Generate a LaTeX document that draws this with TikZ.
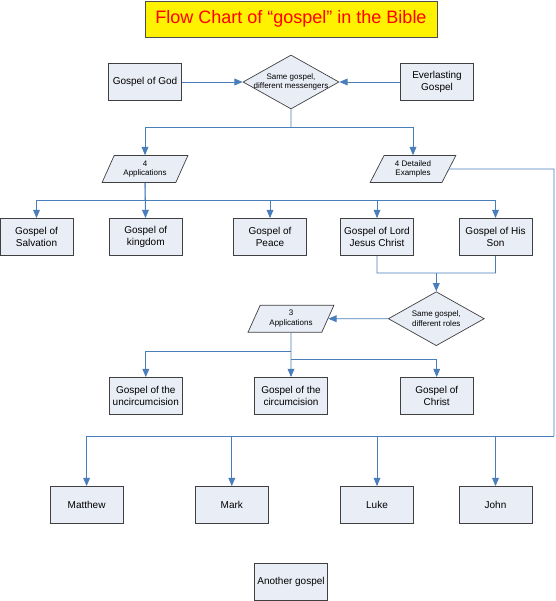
\documentclass[tikz,border=0pt]{standalone}
\usepackage{fontspec}
\setmainfont{Liberation Sans}
\usepackage{tikz}
\usetikzlibrary{arrows,shapes.geometric}
\definecolor{boxfill}{RGB}{233,237,246}
\definecolor{linkblue}{RGB}{74,126,187}

\begin{document}
\begin{tikzpicture}[x=1pt, y=-1pt, >=triangle 45,
  box/.style={draw=black!75, line width=0.9pt, fill=boxfill, minimum width=73pt, minimum height=37pt, inner sep=1pt, align=center, font=\fontsize{10}{12}\selectfont},
  choice/.style={diamond, shape aspect=1.78, draw=black!75, line width=0.7pt, fill=boxfill, minimum width=96pt, minimum height=54pt, inner sep=-6pt, align=center, font=\fontsize{8}{9.5}\selectfont},
  io/.style={trapezium, trapezium left angle=63, trapezium right angle=117, trapezium stretches=true, draw=black!75, line width=0.7pt, fill=boxfill, minimum width=86pt, minimum height=27pt, inner sep=0pt, align=center, font=\fontsize{8}{9.5}\selectfont},
  link/.style={draw=linkblue, line width=0.9pt}]
 \useasboundingbox (0,0) rectangle (555,601);
 \node [draw=black!70, line width=0.9pt, fill=yellow, text=red, minimum width=292pt, minimum height=36pt, font=\fontsize{18}{20}\selectfont] (title) at (291,19) {Flow Chart of “gospel” in the Bible};

 \node [box] (god) at (145,82) {Gospel of God};
 \node [choice] (same) at (291,82) {Same gospel,\\different messengers};
 \node [box] (ever) at (437,82) {Everlasting\\Gospel};
 \node [io] (apps) at (145,169) {4\\Applications};
 \node [io] (examples) at (413,169) {4 Detailed\\Examples};
 \node [box] (salv) at (36.5,237) {Gospel of\\Salvation};
 \node [box] (king) at (145.7,237) {Gospel of\\kingdom};
 \node [box] (peace) at (270,237) {Gospel of\\Peace};
 \node [box] (lord) at (377,237) {Gospel of Lord\\Jesus Christ};
 \node [box] (son) at (495.5,237) {Gospel of His\\Son};
 \node [choice] (roles) at (436.3,318.7) {Same gospel,\\different roles};
 \node [io] (apps3) at (291,318.7) {3\\Applications};
 \node [box] (uncirc) at (145.8,396) {Gospel of the\\uncircumcision};
 \node [box] (circ) at (291,396) {Gospel of the\\circumcision};
 \node [box] (christ) at (436.7,396) {Gospel of\\Christ};
 \node [box] (matt) at (86.6,505) {Matthew};
 \node [box] (mark) at (231.8,505) {Mark};
 \node [box] (luke) at (377,505) {Luke};
 \node [box] (john) at (495.5,505) {John};
 \node [box] (another) at (291,582) {Another gospel};

 \coordinate (split1) at (291,127);
 \coordinate (split2) at (145,200);
 \coordinate (join) at (436.3,273);
 \coordinate (split3) at (291,351);
 \coordinate (split4) at (291,359);
 \coordinate (turn1) at (554,169);
 \coordinate (turn2) at (554,436);

 \draw[link,->] (god) -- (same);
 \draw[link,->] (ever) -- (same);
 \draw[link,->] (roles) -- (apps3);
 \draw[link,->] (apps) -- (king);
 \draw[link,->] (apps3) -- (circ);
 \draw[link] (same) -- (split1) (apps) -- (split2)
  (lord) |- (join) (son) |- (join)
  (examples) -- (turn1) -- (turn2);
 \draw[link,->] (split1) -| (apps);
 \draw[link,->] (split1) -| (examples);
 \draw[link,->] (split2) -| (salv);
 \draw[link,->] (split2) -| (peace);
 \draw[link,->] (split2) -| (lord);
 \draw[link,->] (split2) -| (son);
 \draw[link,->] (join) -- (roles);
 \draw[link,->] (split3) -| (uncirc);
 \draw[link,->] (split4) -| (christ);
 \draw[link,->] (turn2) -| (matt);
 \draw[link,->] (turn2) -| (mark);
 \draw[link,->] (turn2) -| (luke);
 \draw[link,->] (turn2) -| (john);
\end{tikzpicture}
\end{document}
